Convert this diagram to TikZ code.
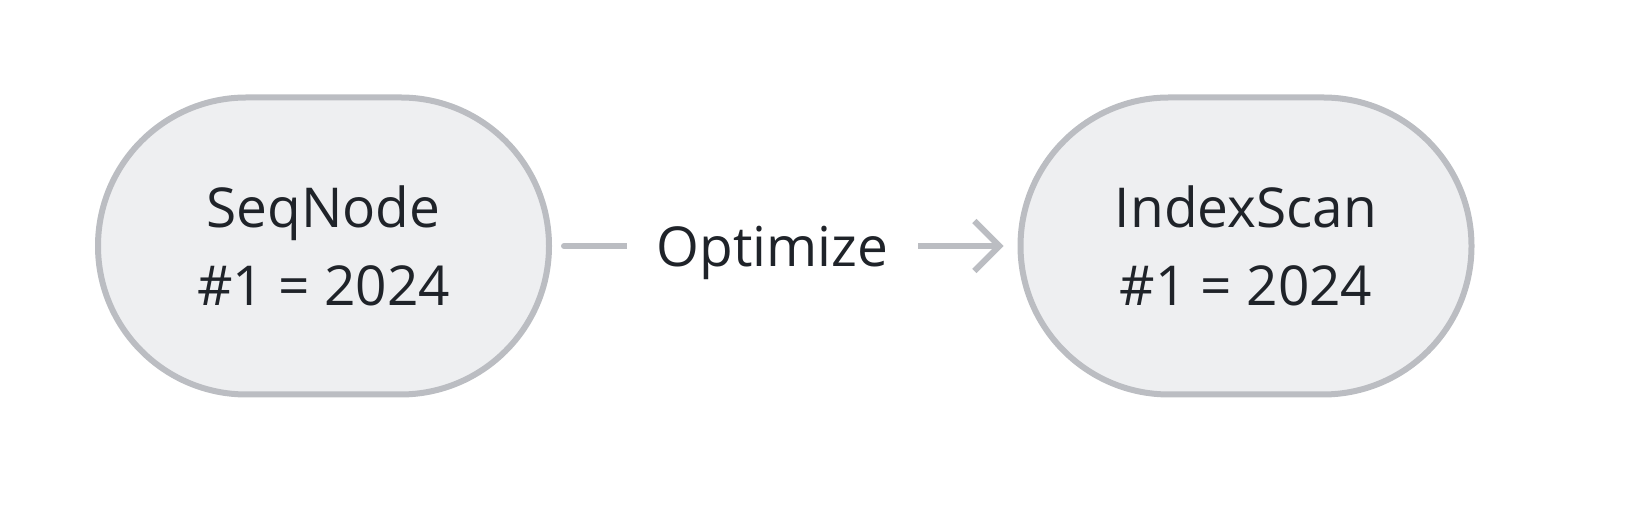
\documentclass[tikz,border=0pt]{standalone}
\usepackage{fontspec}
\setmainfont{Open Sans}
\usetikzlibrary{arrows.meta,shapes.misc}
\definecolor{plfill}{HTML}{EEEFF1}
\definecolor{pldraw}{HTML}{BBBDC2}
\definecolor{pltext}{HTML}{1F2329}
\begin{document}
\begin{tikzpicture}[%
      x=0.5pt,y=0.5pt,
      plan/.style={rounded rectangle,line width=3pt,draw=pldraw,fill=plfill,text=pltext,align=center,
        minimum width=225.5pt,minimum height=148.5pt,inner sep=0pt,outer sep=0pt,
        font=\fontsize{27.5}{39}\selectfont},
      rewrite/.style={line width=3pt,draw=pldraw,line cap=round,line join=round,
        -{Straight Barb[length=12.5pt,width=25pt,line width=3pt]}}
      ]
      \useasboundingbox (0,0) rectangle (1632,512);
      \draw (323.5,266) node[plan] (seq) {SeqNode\\\#1 = 2024};
      \draw (1246,266) node[plan] (idx) {IndexScan\\\#1 = 2024};
      \draw[rewrite,shorten <=7.5pt,shorten >=8.5pt] (seq.east) -- node[pos=0.474,yshift=-3.5pt,fill=white,text=pltext,inner sep=0pt,minimum width=145.5pt,
        font=\fontsize{27.5}{30}\selectfont] (opt) {Optimize} (idx.west);
    \end{tikzpicture}
\end{document}
